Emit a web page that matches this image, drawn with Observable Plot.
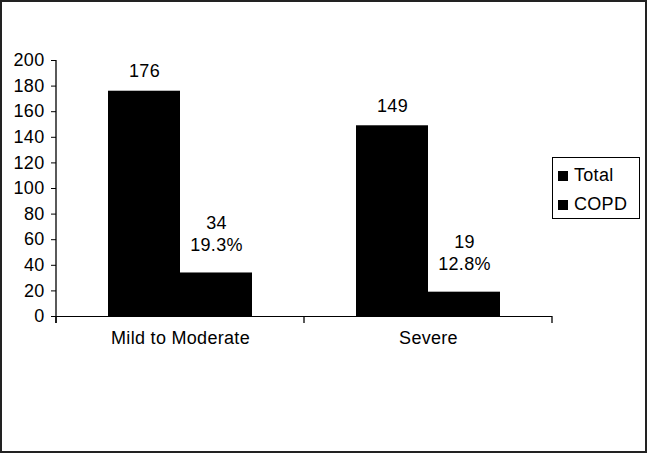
<!DOCTYPE html>
<html>
<head>
<meta charset="utf-8">
<script src="https://cdn.jsdelivr.net/npm/d3@7"></script>
<script src="https://cdn.jsdelivr.net/npm/@observablehq/plot@0.6"></script>
<style>
  html, body { margin: 0; padding: 0; background: #fff; }
  #wrap { position: relative; width: 648px; height: 454px; overflow: hidden; font-family: "Liberation Sans", Arial, sans-serif; }
  #chart svg { position: absolute; left: 0; top: 0; }
  #border { position: absolute; left: 0; top: 0; width: 647px; height: 453px; box-sizing: border-box; border: 2px solid #222; pointer-events: none; }
  #legend { position: absolute; left: 552px; top: 157px; width: 88px; height: 62px; box-sizing: border-box; border: 1px solid #000; background: #fff; font-size: 18px; letter-spacing: 0.3px; color: #000; }
  #legend .item { position: absolute; left: 5px; height: 20px; line-height: 20px; white-space: nowrap; }
  #legend .sw { display: inline-block; width: 10px; height: 10px; background: #000; margin-right: 6px; }
</style>
</head>
<body>
<div id="wrap">
  <div id="chart"></div>
  <div id="legend"></div>
  <div id="border"></div>
</div>
<script>
const categories = ["Mild to Moderate", "Severe"];
const series = ["Total", "COPD"];
const totalValues = [176, 149];
const copdValues = [34, 19];
const yTicks = [0, 20, 40, 60, 80, 100, 120, 140, 160, 180, 200];
const seriesColors = ["#000000", "#000000"];

const rows = [];
categories.forEach((c, i) => {
  rows.push({category: c, series: "Total", value: totalValues[i]});
  rows.push({category: c, series: "COPD", value: copdValues[i], pct: (100 * copdValues[i] / totalValues[i]).toFixed(1)});
});
const totals = rows.filter(d => d.series === "Total");
const copd = rows.filter(d => d.series === "COPD");

const chart = Plot.plot({
  width: 648,
  height: 454,
  marginLeft: 55,
  marginRight: 96,
  marginTop: 60,
  marginBottom: 138,
  style: {fontFamily: "'Liberation Sans', Arial, sans-serif", fontSize: "18px", color: "#000", background: "transparent", letterSpacing: "0.3px"},
  fx: {domain: categories, padding: 0, label: null, tickSize: 0, tickPadding: 15},
  x: {domain: series, axis: null, paddingInner: 0, paddingOuter: 0.72},
  y: {domain: [0, 200], ticks: yTicks, tickSize: 5, tickPadding: 7, label: null, tickFormat: d => String(d)},
  color: {domain: series, range: seriesColors},
  marks: [
    Plot.barY(rows, {fx: "category", x: "series", y: "value", fill: "series"}),
    Plot.ruleY([0], {stroke: "#000"}),
    Plot.text(totals, {fx: "category", x: "series", y: "value", text: d => String(d.value), dy: -20, fill: "#000"}),
    Plot.text(copd, {fx: "category", x: "series", y: "value", text: d => `${d.value}\n${d.pct}%`, lineHeight: 1.24, dy: -40, fill: "#000"})
  ]
});
document.getElementById("chart").appendChild(chart);

// axis line and category boundary ticks, placed with the plot's own scales
const fxs = chart.scale("fx");
const ys = chart.scale("y");
const svg = d3.select(chart);
const y0 = ys.apply(0), yTop = ys.apply(200);
const left = fxs.apply(categories[0]);
const bounds = [left, ...categories.map(c => fxs.apply(c) + fxs.bandwidth)];
const g = svg.append("g").attr("stroke", "#000").attr("stroke-width", 1.3);
g.append("line").attr("x1", left).attr("x2", left).attr("y1", yTop).attr("y2", y0 + 7);
bounds.forEach(b => g.append("line").attr("x1", b).attr("x2", b).attr("y1", y0).attr("y2", y0 + 7));

// legend
const legend = document.getElementById("legend");
series.forEach((s, i) => {
  const it = document.createElement("div");
  it.className = "item";
  it.style.top = (7 + i * 29) + "px";
  it.innerHTML = `<span class="sw" style="background:${seriesColors[i]}"></span>${s}`;
  legend.appendChild(it);
});
</script>
</body>
</html>
